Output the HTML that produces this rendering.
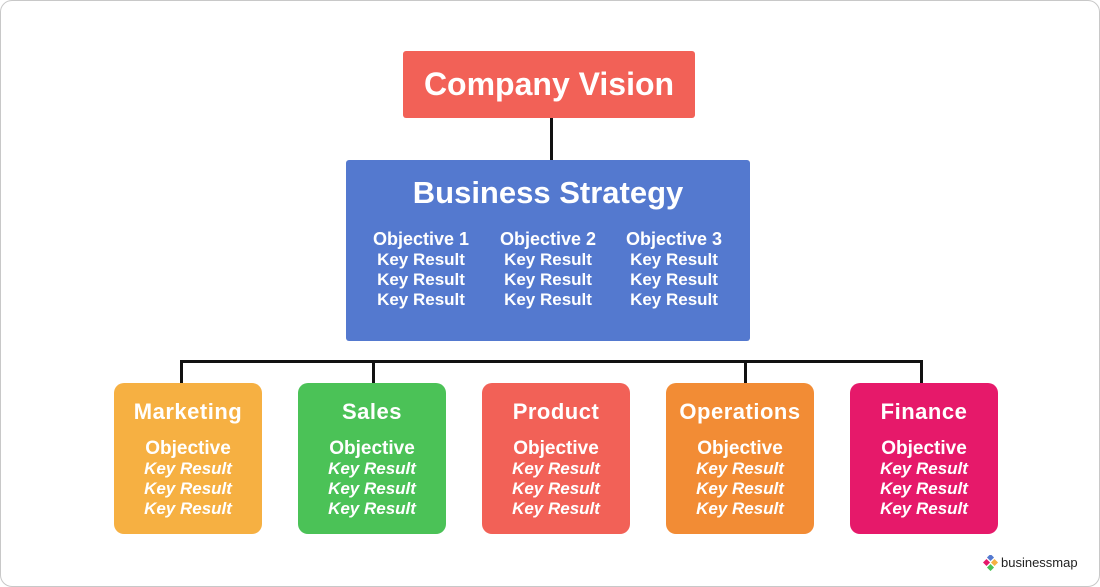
<!DOCTYPE html>
<html><head><style>
body{margin:0;width:1100px;height:587px;background:#fff;font-family:"Liberation Sans",sans-serif;position:relative;overflow:hidden}
.frame{position:absolute;left:0;top:0;width:1098px;height:585px;border:1px solid #c8c8c8;border-radius:12px}
.b{position:absolute;color:#fff;text-align:center;box-sizing:border-box}
.line{position:absolute;background:#111}
.dept{width:148px;height:151px;top:383px;border-radius:10px}
.dept .t{position:absolute;top:15px;left:0;right:0;font-size:22px;line-height:28px;letter-spacing:0.5px;font-weight:bold}
.dept .o{position:absolute;top:55px;left:0;right:0;font-size:19px;line-height:22px;font-weight:bold}
.dept .k{position:absolute;left:0;right:0;font-size:17px;font-style:italic;font-weight:bold;line-height:20px}
.col{position:absolute;top:68px;width:126px;text-align:center}
.col div{font-size:17px;line-height:20px;font-weight:bold}
.col .h{font-size:18px;line-height:22px;font-weight:bold}
</style></head><body>
<div class="frame"></div>
<div class="line" style="left:550px;top:118px;width:3px;height:44px"></div>
<div class="line" style="left:180px;top:360px;width:743px;height:3px"></div>
<div class="line" style="left:180px;top:360px;width:3px;height:25px"></div>
<div class="line" style="left:372px;top:360px;width:3px;height:25px"></div>
<div class="line" style="left:744px;top:360px;width:3px;height:25px"></div>
<div class="line" style="left:920px;top:360px;width:3px;height:25px"></div>
<div class="b" style="left:403px;top:51px;width:292px;height:67px;background:#f26157;border-radius:3px;font-size:32px;line-height:67px;font-weight:bold">Company Vision</div>
<div class="b" style="left:346px;top:160px;width:404px;height:181px;background:#5479cf;border-radius:3px">
<div style="position:absolute;top:15px;left:0;right:0;font-size:31px;line-height:36px;font-weight:bold">Business Strategy</div>
<div class="col" style="left:12px"><div class="h">Objective 1</div><div>Key Result</div><div>Key Result</div><div>Key Result</div></div>
<div class="col" style="left:139px"><div class="h">Objective 2</div><div>Key Result</div><div>Key Result</div><div>Key Result</div></div>
<div class="col" style="left:265px"><div class="h">Objective 3</div><div>Key Result</div><div>Key Result</div><div>Key Result</div></div>
</div>
<div class="b dept" style="left:114px;background:#f6b042"><div class="t">Marketing</div><div class="o">Objective</div><div class="k" style="top:76px">Key Result</div><div class="k" style="top:96px">Key Result</div><div class="k" style="top:116px">Key Result</div></div>
<div class="b dept" style="left:298px;background:#4bc257"><div class="t">Sales</div><div class="o">Objective</div><div class="k" style="top:76px">Key Result</div><div class="k" style="top:96px">Key Result</div><div class="k" style="top:116px">Key Result</div></div>
<div class="b dept" style="left:482px;background:#f26157"><div class="t">Product</div><div class="o">Objective</div><div class="k" style="top:76px">Key Result</div><div class="k" style="top:96px">Key Result</div><div class="k" style="top:116px">Key Result</div></div>
<div class="b dept" style="left:666px;background:#f28c35"><div class="t">Operations</div><div class="o">Objective</div><div class="k" style="top:76px">Key Result</div><div class="k" style="top:96px">Key Result</div><div class="k" style="top:116px">Key Result</div></div>
<div class="b dept" style="left:850px;background:#e6196a"><div class="t">Finance</div><div class="o">Objective</div><div class="k" style="top:76px">Key Result</div><div class="k" style="top:96px">Key Result</div><div class="k" style="top:116px">Key Result</div></div>
<svg style="position:absolute;left:983px;top:555px" width="16" height="16" viewBox="0 0 16 16">
<rect x="5" y="0" width="5" height="5" fill="#5479cf" transform="rotate(45 7.5 2.5)"/>
<rect x="1" y="5" width="5" height="5" fill="#e6196a" transform="rotate(45 3.5 7.5)"/>
<rect x="9" y="5" width="5" height="5" fill="#f6b042" transform="rotate(45 11.5 7.5)"/>
<rect x="5" y="10" width="5" height="5" fill="#4bc257" transform="rotate(45 7.5 12.5)"/>
</svg>
<div style="position:absolute;left:1001px;top:555px;font-size:13px;line-height:16px;color:#222">businessmap</div>
</body></html>
